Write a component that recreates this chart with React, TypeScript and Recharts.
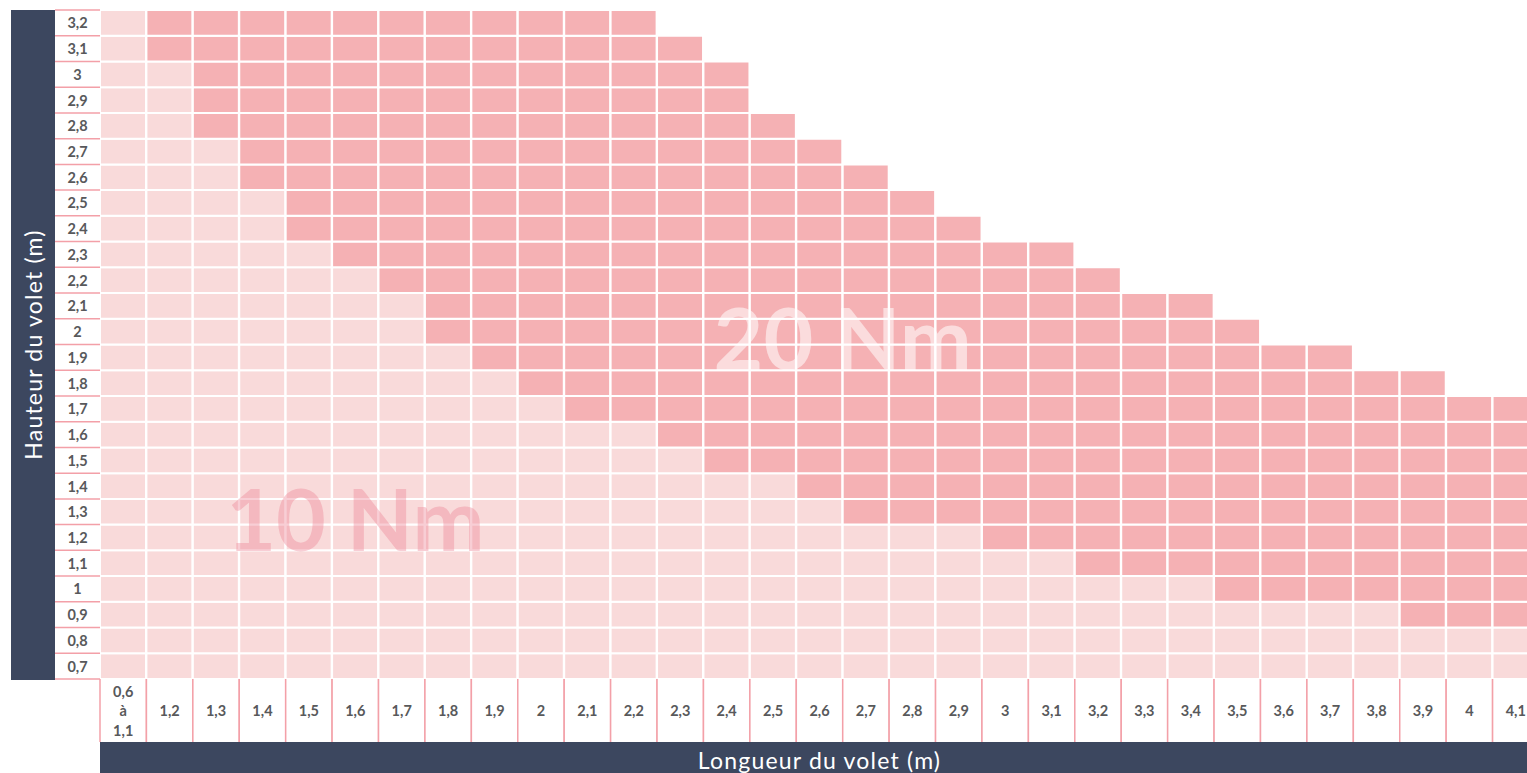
import React from 'react'
import { BarChart, Bar, Cell, XAxis, YAxis, ReferenceArea } from 'recharts'

// Longueur du volet (m) : une colonne par valeur
const longueurs = ['0,6 à 1,1', '1,2', '1,3', '1,4', '1,5', '1,6', '1,7', '1,8', '1,9', '2', '2,1', '2,2', '2,3', '2,4', '2,5', '2,6', '2,7', '2,8', '2,9', '3', '3,1', '3,2', '3,3', '3,4', '3,5', '3,6', '3,7', '3,8', '3,9', '4', '4,1']

// Hauteur du volet (m) : lignes, de bas en haut
const hauteurs = [0.7, 0.8, 0.9, 1, 1.1, 1.2, 1.3, 1.4, 1.5, 1.6, 1.7, 1.8, 1.9, 2, 2.1, 2.2, 2.3, 2.4, 2.5, 2.6, 2.7, 2.8, 2.9, 3, 3.1, 3.2]
const hauteursLabels = ['0,7', '0,8', '0,9', '1', '1,1', '1,2', '1,3', '1,4', '1,5', '1,6', '1,7', '1,8', '1,9', '2', '2,1', '2,2', '2,3', '2,4', '2,5', '2,6', '2,7', '2,8', '2,9', '3', '3,1', '3,2']

// Hauteur max possible pour chaque longueur
const hauteurMax = [3.2, 3.2, 3.2, 3.2, 3.2, 3.2, 3.2, 3.2, 3.2, 3.2, 3.2, 3.2, 3.1, 3, 2.8, 2.7, 2.6, 2.5, 2.4, 2.3, 2.3, 2.2, 2.1, 2.1, 2, 1.9, 1.9, 1.8, 1.8, 1.7, 1.7]

// Hauteur à partir de laquelle il faut un moteur 20 Nm (null = toujours 10 Nm)
const seuil20Nm = [null, 3.1, 2.8, 2.6, 2.4, 2.3, 2.2, 2, 1.9, 1.8, 1.7, 1.7, 1.6, 1.5, 1.5, 1.4, 1.3, 1.3, 1.3, 1.2, 1.2, 1.1, 1.1, 1.1, 1, 1, 1, 1, 0.9, 0.9, 0.9]

const CLAIR = '#f9dada'
const FONCE = '#f5b1b4'
const MARINE = '#3c475f'
const ROSE_TRAIT = '#f3a0a8'
const GRIS = '#58595b'

const W = 1531
const H = 765
const TOP = 2
const LEFT = 3
const Y_AXIS_W = 89
const X_AXIS_H = 94
const PLOT_H = H - TOP - X_AXIS_H
const PLOT_W = W - LEFT - Y_AXIS_W
const rowH = PLOT_H / hauteurs.length
const colW = PLOT_W / longueurs.length

// la page est photographiée sur la boîte du body : on enlève sa marge
document.body.style.margin = '0'

const data = longueurs.map((name, j) => {
  const row: Record<string, any> = { name }
  hauteurs.forEach((h, i) => {
    row['h' + i] = h <= hauteurMax[j] + 1e-6 ? 1 : 0
  })
  return row
})

function couleur(i: number, j: number) {
  const s = seuil20Nm[j]
  if (s !== null && hauteurs[i] >= s - 1e-6) return FONCE
  return CLAIR
}

const YTick = (props: any) => {
  const { x, y, payload, index } = props
  const i = Math.round(payload.value - 0.5)
  return (
    <g>
      <rect x={x - 45} y={y - rowH / 2} width={45} height={rowH} fill='#fff' />
      <line x1={x - 45} x2={x} y1={y + rowH / 2} y2={y + rowH / 2} stroke={ROSE_TRAIT} strokeWidth={1.5} />
      {index === hauteurs.length - 1 && (
        <line x1={x - 45} x2={x} y1={y - rowH / 2} y2={y - rowH / 2} stroke={ROSE_TRAIT} strokeWidth={1.5} />
      )}
      <text x={x - 22.5} y={y} textAnchor='middle' dominantBaseline='central' fill={GRIS} fontSize={14.5} fontWeight={700}>
        {hauteursLabels[i]}
      </text>
    </g>
  )
}

const XTick = (props: any) => {
  const { x, y, payload } = props
  const lines = String(payload.value).split(' ')
  const boxH = 63
  const lineH = 19.5
  const startY = y + boxH / 2 - ((lines.length - 1) * lineH) / 2
  return (
    <g>
      <rect x={x - colW / 2} y={y} width={colW} height={boxH} fill='#fff' />
      <line x1={x - colW / 2} x2={x - colW / 2} y1={y} y2={y + boxH} stroke={ROSE_TRAIT} strokeWidth={1.5} />
      <line x1={x + colW / 2} x2={x + colW / 2} y1={y} y2={y + boxH} stroke={ROSE_TRAIT} strokeWidth={1.5} />
      {lines.map((l, k) => (
        <text key={k} x={x} y={startY + k * lineH} textAnchor='middle' dominantBaseline='central' fill={GRIS} fontSize={14.5} fontWeight={700}>
          {l}
        </text>
      ))}
    </g>
  )
}

const TitreY = (props: any) => {
  const vb = props.viewBox
  const cx = vb.x + 22
  const cy = vb.y + vb.height / 2
  return (
    <g>
      <rect x={vb.x} y={vb.y} width={44} height={vb.height + 1} fill={MARINE} />
      <text x={cx} y={cy} transform={`rotate(-90 ${cx} ${cy})`} textAnchor='middle' dominantBaseline='central' fill='#fff' fontSize={23} letterSpacing={1.2}>
        Hauteur du volet (m)
      </text>
    </g>
  )
}

const TitreX = (props: any) => {
  const vb = props.viewBox
  return (
    <g>
      <rect x={vb.x} y={vb.y + 63} width={vb.width} height={vb.height - 63} fill={MARINE} />
      <text x={vb.x + vb.width / 2} y={vb.y + 81} textAnchor='middle' dominantBaseline='central' fill='#fff' fontSize={23} letterSpacing={1.2}>
        Longueur du volet (m)
      </text>
    </g>
  )
}

export default function App() {
  return (
    <div style={{ width: 1527, height: 773, overflow: 'hidden', padding: '8px 0 0 8px', boxSizing: 'border-box' }}>
      <BarChart
        width={W}
        height={H}
        data={data}
        margin={{ top: TOP, right: 0, left: LEFT, bottom: 0 }}
        barCategoryGap={0}
        barGap={0}
        style={{ fontFamily: 'Lato, sans-serif' }}
      >
        <XAxis
          dataKey='name'
          height={X_AXIS_H}
          axisLine={false}
          tickLine={false}
          tickSize={0}
          tickMargin={0}
          interval={0}
          tick={<XTick />}
          label={{ content: <TitreX /> }}
        />
        <YAxis
          type='number'
          domain={[0, hauteurs.length]}
          ticks={hauteurs.map((_, i) => i + 0.5)}
          width={Y_AXIS_W}
          axisLine={false}
          tickLine={false}
          tickSize={0}
          tickMargin={0}
          interval={0}
          tick={<YTick />}
          label={{ content: <TitreY /> }}
        />
        {hauteurs.map((h, i) => (
          <Bar key={i} dataKey={'h' + i} stackId='grille' isAnimationActive={false} stroke='#fff' strokeWidth={2}>
            {data.map((d, j) => (
              <Cell key={j} fill={couleur(i, j)} />
            ))}
          </Bar>
        ))}
        <ReferenceArea
          x1='2,6'
          x2='2,7'
          y1={12.7}
          y2={13.7}
          fill='none'
          fillOpacity={0}
          ifOverflow='visible'
          label={{ value: '20 Nm', position: 'center', fill: '#fff', fillOpacity: 0.55, fontSize: 86, fontWeight: 700 }}
        />
        <ReferenceArea
          x1='1,5'
          x2='1,7'
          y1={5.6}
          y2={6.7}
          fill='none'
          fillOpacity={0}
          ifOverflow='visible'
          label={{ value: '10 Nm', position: 'center', fill: '#ee8496', fillOpacity: 0.4, fontSize: 86, fontWeight: 700 }}
        />
      </BarChart>
    </div>
  )
}
